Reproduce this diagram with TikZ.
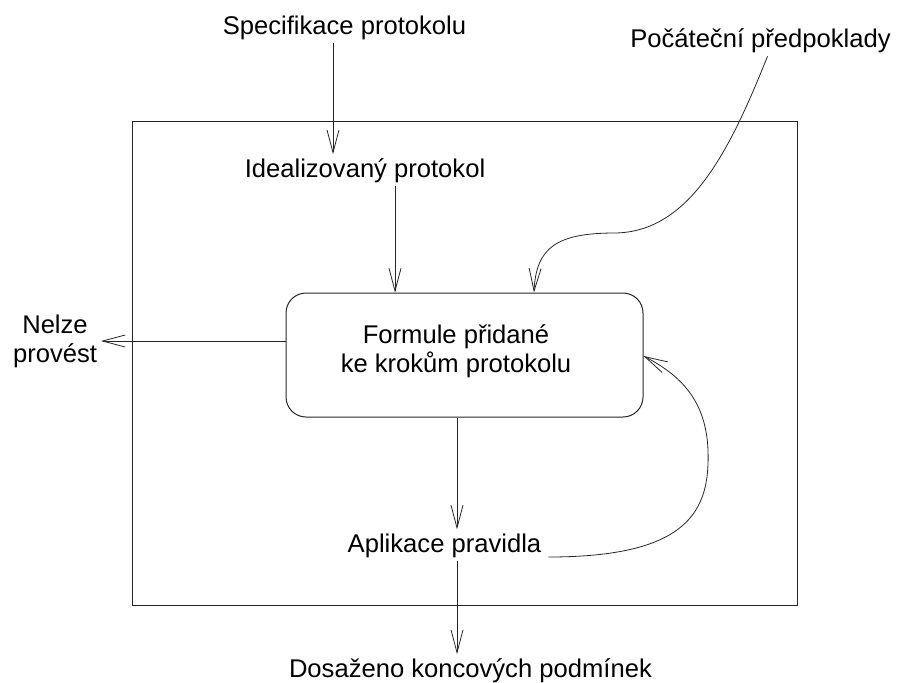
\documentclass[tikz,border=0pt]{standalone}
\usepackage{fontspec}
\setmainfont{Liberation Sans}
\usetikzlibrary{arrows.meta,calc}

\begin{document}
\begin{tikzpicture}[x=0.75pt,y=-0.75pt,
  txt/.style={inner sep=0pt,outer sep=3pt,font=\fontsize{19.2pt}{21.75pt}\selectfont},
  conn/.style={line width=0.6pt,draw=black!85,
    -{Straight Barb[length=17pt,width=9pt,line width=0.6pt]}},
  frame/.style={line width=0.75pt,draw=black!85},
  stagebox/.style={frame,rounded corners=15pt,minimum width=267.75pt,
    minimum height=93pt,inner sep=0pt}]
  \useasboundingbox (0,0) rectangle (902,682);

  % outer frame of the verification procedure
  \draw[frame] (132,121) rectangle (797,605);

  % central step
  \node[stagebox] (box) at (464.5,355) {};
  \node[txt,align=center] (formtext) at (456,351) {Formule přidané\\ke krokům protokolu};

  % labels
  \node[txt,anchor=base] (spec)  at (344.5,34) {Specifikace protokolu};
  \node[txt,anchor=base] (ideal) at (365,177)  {Idealizovaný protokol};
  \node[txt,anchor=base] (pocat) at (760.5,47) {Počáteční předpoklady};
  \node[txt,align=center] (nelze) at (55,341) {Nelze\\provést};
  \node[txt,anchor=base] (apl)   at (444.5,552) {Aplikace pravidla};
  \node[txt,anchor=base west] (dos) at (285,677) {Dosaženo koncových podmínek};

  % straight connectors
  \draw[conn] (spec.south -| 333,0) -- (ideal.north -| 333,0);
  \draw[conn] (ideal.south -| 395,0) -- (box.north -| 395,0);
  \draw[conn] (box.west |- nelze.east) -- (nelze.east);
  \draw[conn] (box.south -| 457,0) -- (apl.north -| 457,0);
  \draw[conn] (apl.south -| 457,0) -- (dos.north -| 457,0);

  % curved connectors
  \draw[conn] ($(pocat.south)+(7,0)$)
    .. controls (730,150) and (690,232) .. (615,233)
    .. controls (556,233) and (536,248) .. (box.north -| 534,0);
  \draw[conn] ($(apl.base east)+(3,5)$)
    .. controls (690,557) and (710,510) .. (708,450)
    .. controls (706,400) and (680,375) .. (box.east |- 0,356);
\end{tikzpicture}
\end{document}
